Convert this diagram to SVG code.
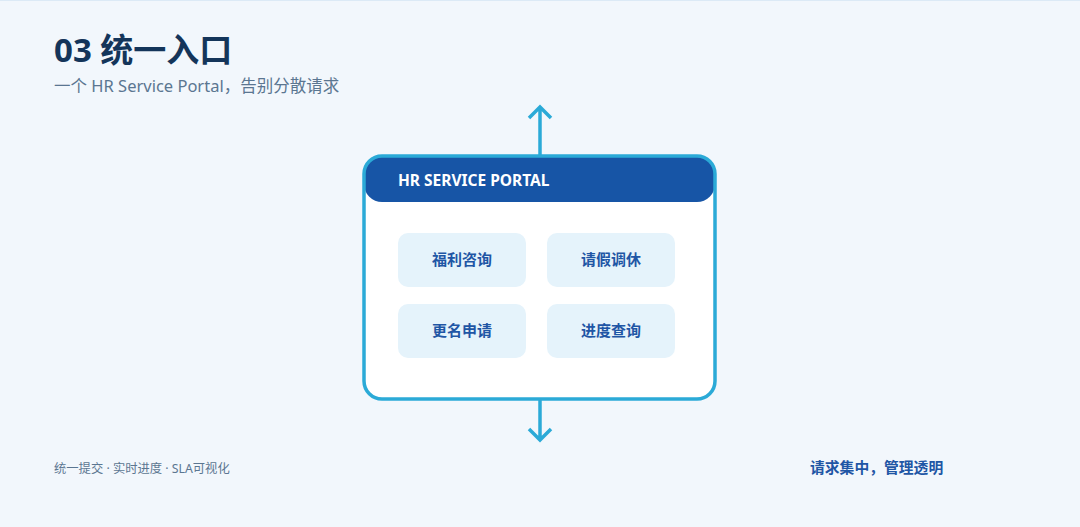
<svg xmlns="http://www.w3.org/2000/svg" width="1080" height="527" viewBox="0 0 1080 527">
  <defs>
    <style>
      .title{font-family:"Noto Sans","Noto Sans CJK SC",sans-serif;font-weight:700;font-size:33px;fill:#14355A}
      .sub{font-family:"Noto Sans","Noto Sans CJK SC",sans-serif;font-size:16.5px;fill:#5B7691}
      .foot{font-family:"Noto Sans","Noto Sans CJK SC",sans-serif;font-size:12.3px;fill:#5B7691}
      .footr{font-family:"Noto Sans","Noto Sans CJK SC",sans-serif;font-weight:700;font-size:14.8px;fill:#1F56A5}
      .hdr{font-family:"Noto Sans","Noto Sans CJK SC",sans-serif;font-weight:700;font-size:15.5px;fill:#FFFFFF}
      .item rect{fill:#E5F3FB}
      .item text{font-family:"Noto Sans","Noto Sans CJK SC",sans-serif;font-weight:700;font-size:15px;fill:#1F56A5;text-anchor:middle}
      .conn{stroke:#2BAAD7;stroke-width:3.5;fill:none;stroke-linecap:butt;stroke-linejoin:miter}
    </style>
  </defs>
  <rect x="0" y="0" width="1080" height="527" fill="#F2F7FC"/>
  <rect x="0" y="0" width="1080" height="1" fill="#DCEAF6"/>

  <text class="title" x="54" y="62">03 统一入口</text>
  <text class="sub" x="54" y="92">一个 HR Service Portal，告别分散请求</text>

  <g id="connectors">
    <path class="conn" d="M540 156 V107 M529 118 L540 107 L551 118"/>
    <path class="conn" d="M540 399 V440 M529 429 L540 440 L551 429"/>
  </g>

  <g id="portal">
    <rect x="364" y="156" width="351" height="243" rx="18" fill="#FFFFFF"/>
    <rect x="364" y="156" width="351" height="46" rx="18" fill="#1755A6"/>
    <rect x="364" y="156" width="351" height="243" rx="18" fill="none" stroke="#2BAAD7" stroke-width="3.5"/>
    <text class="hdr" x="398" y="186">HR SERVICE PORTAL</text>
  </g>

  <g id="item-benefits" class="item">
    <rect x="398" y="233" width="128" height="54" rx="10"/>
    <text x="462" y="265">福利咨询</text>
  </g>
  <g id="item-leave" class="item">
    <rect x="547" y="233" width="128" height="54" rx="10"/>
    <text x="611" y="265">请假调休</text>
  </g>
  <g id="item-rename" class="item">
    <rect x="398" y="304" width="128" height="54" rx="10"/>
    <text x="462" y="336">更名申请</text>
  </g>
  <g id="item-progress" class="item">
    <rect x="547" y="304" width="128" height="54" rx="10"/>
    <text x="611" y="336">进度查询</text>
  </g>

  <text class="foot" x="54" y="473">统一提交 · 实时进度 · SLA可视化</text>
  <text class="footr" x="810" y="473">请求集中，管理透明</text>
</svg>
